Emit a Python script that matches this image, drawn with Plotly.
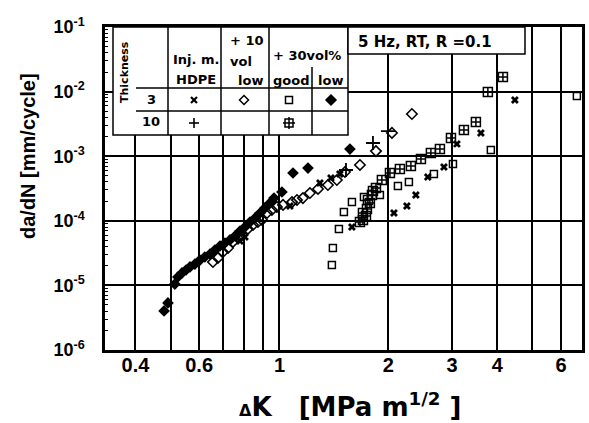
import plotly.graph_objects as go

# ---------------- data (ΔK in MPa m^1/2, da/dN in mm/cycle) ----------------
dk_hdpe_3 = [0.778, 0.803, 1.069, 1.294, 1.388, 1.469,
             1.586, 2.072, 2.250, 2.382, 2.570, 2.848, 3.093, 3.603, 4.473]
dadn_hdpe_3 = [4.87e-5, 5.61e-5, 1.69e-4, 3.85e-4, 4.60e-4, 5.30e-4,
               8.02e-5, 1.32e-4, 1.69e-4, 2.51e-4, 4.76e-4, 6.80e-4, 1.55e-3, 2.29e-3, 7.41e-3]

dk_hdpe_10 = [1.527, 1.813, 1.994]
dadn_hdpe_10 = [6.11e-4, 1.60e-3, 2.45e-3]

dk_10vol_low_3 = [0.655, 0.676, 0.698, 0.721, 0.744, 0.768, 0.788, 0.818, 0.845, 0.872,
                  0.895, 0.924, 0.953, 0.984, 1.023, 1.083, 1.118, 1.161, 1.214, 1.278,
                  1.361, 1.441, 1.517, 1.669, 1.848, 2.046, 2.323]
dadn_10vol_low_3 = [2.30e-5, 2.66e-5, 3.29e-5, 3.79e-5, 4.70e-5, 5.42e-5, 6.03e-5, 7.47e-5, 8.61e-5, 9.57e-5,
                    1.03e-4, 1.32e-4, 1.47e-4, 1.64e-4, 1.76e-4, 1.95e-4, 2.10e-4, 2.25e-4, 2.69e-4, 3.11e-4,
                    3.58e-4, 4.28e-4, 5.69e-4, 7.31e-4, 1.20e-3, 2.29e-3, 4.50e-3]

dk_30vol_good_3 = [1.396, 1.405, 1.460, 1.507, 1.586, 1.712, 1.895, 2.125, 2.279, 2.672, 3.016, 3.838, 6.635]
dadn_30vol_good_3 = [2.07e-5, 3.79e-5, 7.47e-5, 1.37e-4, 1.95e-4, 2.34e-4, 2.51e-4, 3.46e-4, 3.99e-4,
                     5.30e-4, 7.57e-4, 1.25e-3, 8.55e-3]

dk_30vol_low_3 = [0.480, 0.492, 0.514, 0.524, 0.538, 0.552, 0.566, 0.584, 0.603, 0.622,
                  0.643, 0.663, 0.685, 0.707, 0.730, 0.754, 0.778, 0.803, 0.829, 0.856,
                  0.884, 0.912, 0.942, 0.966, 1.016, 1.090, 1.199, 1.566]
dadn_30vol_low_3 = [4.02e-6, 5.35e-6, 1.05e-5, 1.35e-5, 1.56e-5, 1.73e-5, 1.93e-5, 2.14e-5, 2.47e-5, 2.75e-5,
                    3.06e-5, 3.53e-5, 4.07e-5, 4.53e-5, 5.05e-5, 5.82e-5, 6.95e-5, 8.02e-5, 9.57e-5, 1.10e-4,
                    1.32e-4, 1.58e-4, 1.89e-4, 2.25e-4, 2.79e-4, 5.49e-4, 6.56e-4, 1.29e-3]

dk_30vol_good_10 = [1.669, 1.701, 1.734, 1.701, 1.745, 1.778, 1.756, 1.801, 1.813, 1.848, 1.919,
                    2.020, 2.152, 2.308, 2.460, 2.621, 2.776, 2.978, 3.234, 3.490, 3.766, 4.145]
dadn_30vol_good_10 = [9.57e-5, 1.03e-4, 1.19e-4, 1.32e-4, 1.52e-4, 1.89e-4, 2.10e-4, 2.51e-4, 2.89e-4,
                      3.22e-4, 4.28e-4, 5.49e-4, 6.34e-4, 7.05e-4, 9.06e-4, 1.12e-3, 1.29e-3, 1.91e-3,
                      2.54e-3, 3.38e-3, 9.86e-3, 1.68e-2]

x_tickvals = [0.4, 0.5, 0.6, 0.7, 0.8, 0.9, 1, 2, 3, 4, 5, 6]
x_ticktext = ["0.4", "", "0.6", "", "", "", "1", "2", "3", "4", "", "6"]
y_tickvals = [1e-6, 1e-5, 1e-4, 1e-3, 1e-2, 1e-1]
y_ticktext = ["10<sup>-6</sup>", "10<sup>-5</sup>", "10<sup>-4</sup>",
              "10<sup>-3</sup>", "10<sup>-2</sup>", "10<sup>-1</sup>"]

# ---------------- figure ----------------
W, H = 589, 423
L, R, T, B = 105, 582, 27, 350


def px(x):
    return (x - L) / (R - L)


def py(y):
    return (B - y) / (B - T)


fig = go.Figure()

styles = {
    "hdpe3": dict(symbol="x", size=7, color="black"),
    "hdpe10": dict(symbol="cross-thin-open", size=10, color="black", line=dict(width=1.8, color="black")),
    "v10low3": dict(symbol="diamond-open", size=8, color="black", line=dict(width=1.6, color="black")),
    "v30good3": dict(symbol="square-open", size=7, color="black", line=dict(width=1.5, color="black")),
    "v30low3": dict(symbol="diamond", size=9, color="black"),
    "v30good10": dict(symbol="square-cross-open", size=9, color="black", line=dict(width=1.5, color="black")),
}

series = [
    ("Inj. m. HDPE, 3", dk_hdpe_3, dadn_hdpe_3, "hdpe3"),
    ("Inj. m. HDPE, 10", dk_hdpe_10, dadn_hdpe_10, "hdpe10"),
    ("+10 vol low, 3", dk_10vol_low_3, dadn_10vol_low_3, "v10low3"),
    ("+30vol% good, 3", dk_30vol_good_3, dadn_30vol_good_3, "v30good3"),
    ("+30vol% low, 3", dk_30vol_low_3, dadn_30vol_low_3, "v30low3"),
    ("+30vol% good, 10", dk_30vol_good_10, dadn_30vol_good_10, "v30good10"),
]
for name, xs, ys, key in series:
    fig.add_trace(go.Scatter(x=xs, y=ys, mode="markers", name=name, marker=styles[key],
                             showlegend=False, cliponaxis=False))

tick_font = dict(family="Liberation Sans, Arial, sans-serif", size=20, color="black", weight="bold")

fig.update_layout(
    xaxis=dict(type="log", range=[-0.482, 0.836],
               tickmode="array", tickvals=x_tickvals, ticktext=x_ticktext,
               showgrid=True, gridcolor="black", gridwidth=1.5,
               showline=True, linecolor="black", linewidth=2.5, mirror=True,
               ticks="", tickfont=tick_font, ticklabelstandoff=-5, zeroline=False),
    yaxis=dict(type="log", range=[-6, -1],
               tickmode="array", tickvals=y_tickvals, ticktext=y_ticktext,
               showgrid=True, gridcolor="black", gridwidth=1.5,
               showline=True, linecolor="black", linewidth=2.5, mirror=True,
               ticks="inside", ticklen=6, tickwidth=1.5, tickcolor="black",
               minor=dict(ticks="inside", ticklen=3, tickwidth=1, tickcolor="black",
                          dtick="D1", showgrid=False),
               tickfont=dict(family="Liberation Sans, Arial, sans-serif", size=18,
                             color="black", weight="bold"),
               ticklabelstandoff=14, zeroline=False),
)

shapes = []


def line(x0, y0, x1, y1, w=1.5):
    shapes.append(dict(type="line", xref="paper", yref="paper",
                       x0=px(x0), y0=py(y0), x1=px(x1), y1=py(y1),
                       line=dict(color="black", width=w), layer="above"))


def rect(x0, y0, x1, y1, fill="white", w=1.5):
    shapes.append(dict(type="rect", xref="paper", yref="paper",
                       x0=px(x0), y0=py(y1), x1=px(x1), y1=py(y0),
                       fillcolor=fill, line=dict(color="black", width=w), layer="above"))


def diamond(cx, cy, r, fill):
    pts = [(cx, cy - r), (cx + r, cy), (cx, cy + r), (cx - r, cy)]
    path = "M " + " L ".join(f"{px(a):.5f},{py(b):.5f}" for a, b in pts) + " Z"
    shapes.append(dict(type="path", xref="paper", yref="paper", path=path,
                       fillcolor=fill, line=dict(color="black", width=1.5), layer="above"))


# legend table
rect(113, 27, 348, 135)
line(168, 27, 168, 135)
line(221, 27, 221, 135)
line(269, 27, 269, 135)
line(312, 67, 312, 135)
line(136, 88, 348, 88)
line(136, 111, 348, 111)
# condition box
rect(348, 27, 525, 54)

# table sample symbols
line(191, 97, 197, 103, 2.2)          # x
line(191, 103, 197, 97, 2.2)
diamond(244, 100, 4.5, "rgba(0,0,0,0)")  # open diamond
rect(285.5, 96.5, 292.5, 103.5)        # open square
diamond(331, 100, 5, "black")          # filled diamond
line(189, 123, 199, 123, 1.6)          # +
line(194, 118, 194, 128, 1.6)
rect(285, 119, 293, 127, fill="rgba(0,0,0,0)")  # square with cross
line(289, 117, 289, 129)
line(283, 123, 295, 123)

fig.update_layout(shapes=shapes)

tf = dict(family="DejaVu Sans, sans-serif", size=13, color="black", weight="bold")
ann = []


def txt(s, x, y, font=tf, xanchor="center", angle=0):
    ann.append(dict(text=s, x=px(x), y=py(y), xref="paper", yref="paper",
                    xanchor=xanchor, yanchor="middle", showarrow=False,
                    font=font, textangle=angle))


txt("Thickness", 124, 72, font=dict(family="DejaVu Sans, sans-serif", size=11, color="black",
                                    weight="bold"), angle=-90)
txt("Inj. m.", 196, 60)
txt("HDPE", 196, 79)
txt("+ 10", 228, 41, xanchor="left")
txt("vol", 228, 61, xanchor="left")
txt("low", 236, 80, xanchor="left")
txt("+ 30vol%", 307, 55)
txt("good", 291, 80)
txt("low", 330, 80)
txt("3", 151, 100)
txt("10", 151, 122)
txt("5 Hz, RT, R =0.1", 356, 42,
    font=dict(family="DejaVu Sans, sans-serif", size=15, color="black", weight="bold"), xanchor="left")

# axis titles
txt("da/dN [mm/cycle]", 28, 156,
    font=dict(family="Liberation Sans, Arial, sans-serif", size=20, color="black", weight="bold"),
    angle=-90)
txt("<span style='font-size:16px'>Δ</span>K\u00a0\u00a0\u00a0[MPa m<sup>1/2</sup>\u00a0]", 350, 405,
    font=dict(family="DejaVu Sans, sans-serif", size=26, color="black", weight="bold"))

fig.update_layout(annotations=ann,
                  width=W, height=H,
                  margin=dict(l=L, r=W - R, t=T, b=H - B, pad=0, autoexpand=False),
                  paper_bgcolor="white", plot_bgcolor="white",
                  showlegend=False)

fig.write_html("out.html", config={"displayModeBar": False},
               post_script="document.body.style.margin='0';")
